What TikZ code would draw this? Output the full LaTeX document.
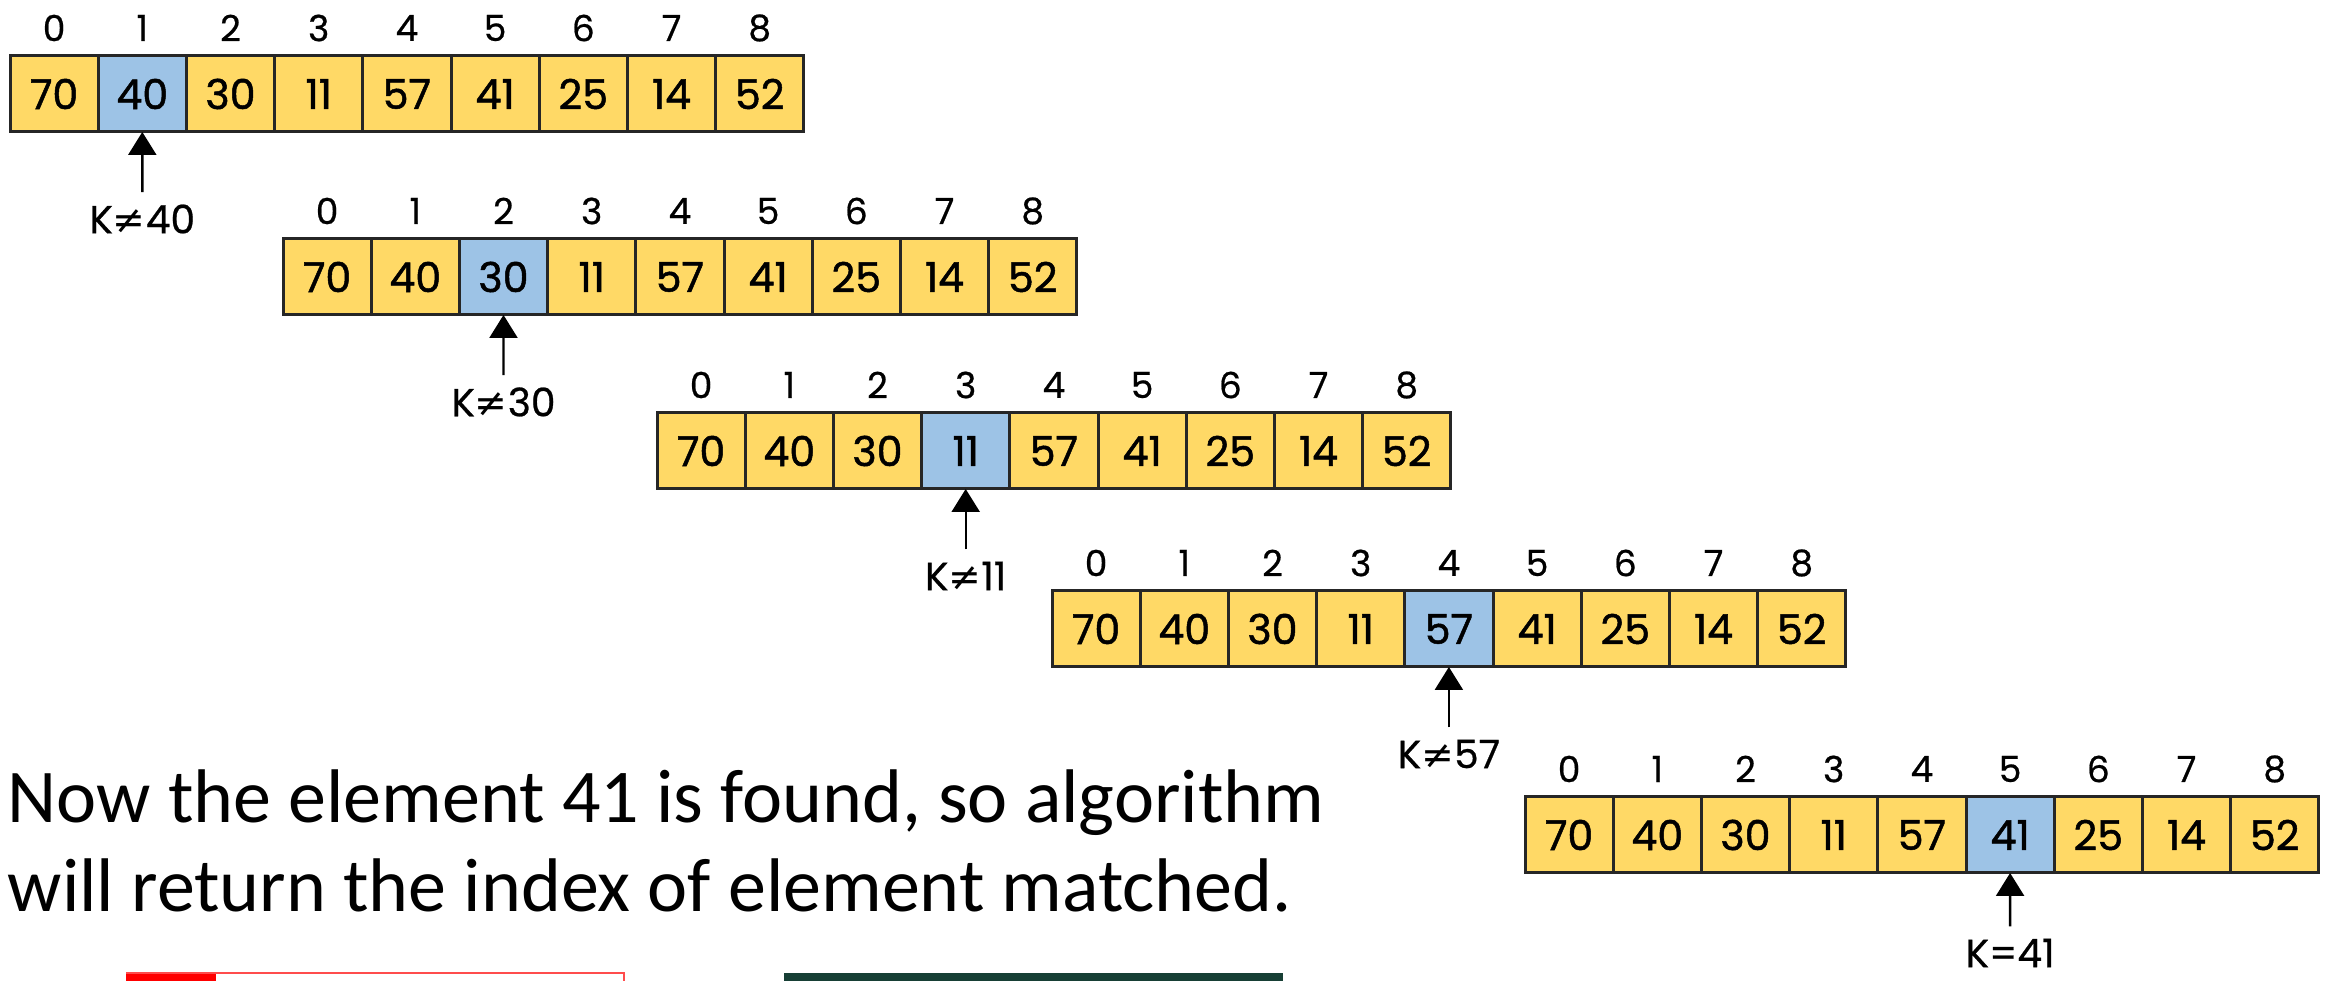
\documentclass[tikz,border=0pt]{standalone}
\usepackage{fontspec}
\setmainfont{Poppins}
\newfontfamily\valfont{Poppins}[FakeBold=1.2]
\newfontfamily\idxfont{Poppins}[FakeBold=0.6]
\newfontfamily\bodyfont{Carlito}
\newfontfamily\symfont{DejaVu Sans}
\usetikzlibrary{arrows.meta}
\definecolor{cellyellow}{HTML}{FFD966}
\definecolor{cellblue}{HTML}{9DC3E6}
\definecolor{cellline}{HTML}{262626}
\definecolor{barred}{HTML}{FF0000}
\definecolor{bargreen}{HTML}{173F35}

\begin{document}
\begin{tikzpicture}[x=0.25pt,y=-0.25pt,
  cell/.style={draw=cellline, line width=0.75pt, minimum width=22.05pt,
    minimum height=19pt, inner sep=0pt, outer sep=0pt, anchor=north west,
    font=\valfont\fontsize{10.3}{11}\selectfont},
  idx/.style={inner sep=0pt, font=\idxfont\fontsize{9}{10}\selectfont},
  klabel/.style={inner xsep=1pt, inner ysep=0.3pt,
    font=\idxfont\fontsize{9.8}{10}\selectfont},
  pointer/.style={line width=0.6pt, shorten <=2.6pt,
    -{Triangle[length=5.75pt,width=7pt]}},
  note/.style={inner sep=0pt, anchor=base west,
    font=\bodyfont\fontsize{19}{22}\selectfont}]

\useasboundingbox (0,0) rectangle (2328,981);
\fill[white] (0,0) rectangle (2328,981);

% one row per step of the linear search:
% left, top, probed index, label, label drop below the row
\foreach \r/\x/\y/\h/\lab/\d in {
    1/10/56/1/{K{\symfont ≠}40}/87,
    2/283/239/2/{K{\symfont ≠}30}/87,
    3/657/413/3/{K{\symfont ≠}11}/87,
    4/1052/591/4/{K{\symfont ≠}57}/87,
    5/1525/797/5/{K=41}/80}
{
  \foreach \v [count=\c from 0] in {70,40,30,11,57,41,25,14,52}
  {
    \ifnum\c=\h \def\fillc{cellblue}\else \def\fillc{cellyellow}\fi
    \node[cell, fill=\fillc] (r\r c\c) at ({\x+\c*88.2}, \y) {\v};
    \node[idx] (i\r c\c) at ({\x+\c*88.2+44.1}, {\y-28}) {\c};
  }
  \node[klabel] (k\r) at ({\x+\h*88.2+44.1}, {\y+76+\d}) {\lab};
  \draw[pointer] (k\r.north) -- (r\r c\h.south);
}

\node[note] (line1) at (7,823) {Now the element 41 is found, so algorithm};
\node[note] (line2) at (7,912) {will return the index of element matched.};

% tops of the two buttons below the text
\fill[barred] (126,973) rectangle (216,995);
\draw[barred!70, line width=0.4pt] (126,973) -- (624,973) -- (624,995);
\fill[bargreen] (784,973) rectangle (1283,995);
\end{tikzpicture}
\end{document}
